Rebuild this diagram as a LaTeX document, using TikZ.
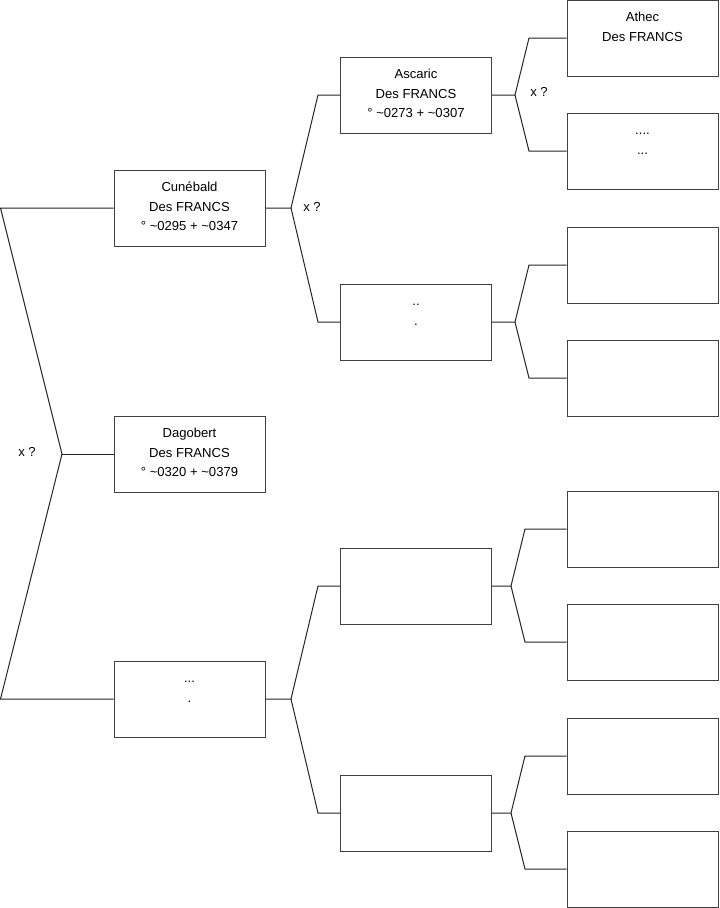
\documentclass[tikz,border=0pt]{standalone}
\usepackage{fontspec}
\setmainfont{Liberation Sans}
\newcommand\bt[1]{\parbox[c][57pt][t]{113pt}{\centering\vspace*{5.6pt}\strut #1\par}}
\begin{document}
\begin{tikzpicture}[x=0.75pt,y=-0.75pt,
  pbox/.style={draw=black!75, line width=0.75pt, minimum width=113.25pt, minimum height=57pt, inner sep=0pt, font=\fontsize{9.8}{14.8}\selectfont},
  conn/.style={draw=black!85, line width=0.75pt},
  lbl/.style={font=\fontsize{9.8}{11}\selectfont, inner sep=0pt}]
\useasboundingbox[fill=white] (0,0) rectangle (719,908);
% level 1
\node[pbox] (c) at (189.5,208) {\bt{Cunébald\\Des FRANCS\\° \textasciitilde0295 + \textasciitilde0347}};
\node[pbox] (d) at (189.5,454) {\bt{Dagobert\\Des FRANCS\\° \textasciitilde0320 + \textasciitilde0379}};
\node[pbox] (e) at (189.5,699) {\bt{...\\.}};
% level 2
\node[pbox] (a) at (416,95) {\bt{Ascaric\\Des FRANCS\\° \textasciitilde0273 + \textasciitilde0307}};
\node[pbox] (b) at (416,322) {\bt{..\\.}};
\node[pbox] (f) at (416,586) {};
\node[pbox] (g) at (416,813) {};
% level 3
\node[pbox] (l1) at (642.5,38) {\bt{Athec\\Des FRANCS}};
\node[pbox] (l2) at (642.5,151) {\bt{....\\...}};
\node[pbox] (l3) at (642.5,265) {};
\node[pbox] (l4) at (642.5,378) {};
\node[pbox] (l5) at (642.5,529) {};
\node[pbox] (l6) at (642.5,642) {};
\node[pbox] (l7) at (642.5,756) {};
\node[pbox] (l8) at (642.5,869) {};
% root fork
\coordinate (r1) at (0.5,208);
\coordinate (rv) at (62,454);
\coordinate (r2) at (0.5,699);
\draw[conn] (c.west) -- (r1) -- (rv) -- (r2) -- (e.west);
\draw[conn] (rv) -- (d.west);
% forks level 1 -> 2
\coordinate (fc) at (291,208);
\coordinate (kc1) at (318,95);
\coordinate (kc2) at (318,322);
\draw[conn] (c.east) -- (fc) -- (kc1) -- (a.west);
\draw[conn] (fc) -- (kc2) -- (b.west);
\coordinate (fe) at (291,699);
\coordinate (ke1) at (318,586);
\coordinate (ke2) at (318,813);
\draw[conn] (e.east) -- (fe) -- (ke1) -- (f.west);
\draw[conn] (fe) -- (ke2) -- (g.west);
% forks level 2 -> 3
\coordinate (fa) at (515,95);
\coordinate (ka1) at (529,38);
\coordinate (ka2) at (529,151);
\draw[conn] (a.east) -- (fa) -- (ka1) -- (l1.west);
\draw[conn] (fa) -- (ka2) -- (l2.west);
\coordinate (fb) at (515,322);
\coordinate (kb1) at (529,265);
\coordinate (kb2) at (529,378);
\draw[conn] (b.east) -- (fb) -- (kb1) -- (l3.west);
\draw[conn] (fb) -- (kb2) -- (l4.west);
\coordinate (ff) at (511,586);
\coordinate (kf1) at (525,529);
\coordinate (kf2) at (525,642);
\draw[conn] (f.east) -- (ff) -- (kf1) -- (l5.west);
\draw[conn] (ff) -- (kf2) -- (l6.west);
\coordinate (fg) at (511,813);
\coordinate (kg1) at (525,756);
\coordinate (kg2) at (525,869);
\draw[conn] (g.east) -- (fg) -- (kg1) -- (l7.west);
\draw[conn] (fg) -- (kg2) -- (l8.west);
% labels
\node[lbl] (x1) at (27,452) {x ?};
\node[lbl] (x2) at (312,207) {x ?};
\node[lbl] (x3) at (539,92) {x ?};
\end{tikzpicture}
\end{document}
